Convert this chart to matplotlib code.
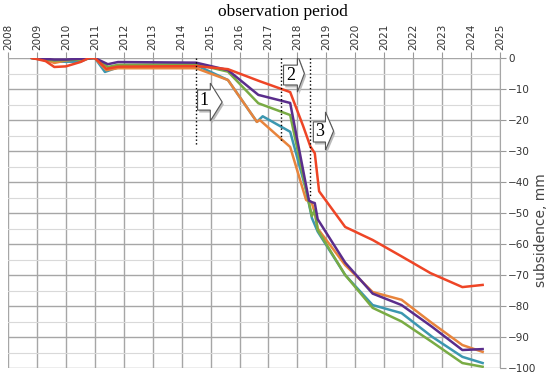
import matplotlib.pyplot as plt
from matplotlib.patches import Polygon
import numpy as np

# data (year, subsidence in mm)
red_x = [2008.83, 2009.3, 2009.6, 2010.0, 2010.5, 2010.8, 2011.0, 2011.4, 2011.8, 2014.5, 2015.6,
         2016.7, 2017.75, 2018.2, 2018.45, 2018.6, 2018.75, 2019.65, 2020.6, 2021.6, 2022.6, 2023.7, 2024.4]
red_y = [0, -1, -2.9, -2.7, -1.3, 0, 0, -3.5, -2.8, -2.6, -3.6,
         -7.5, -11, -22, -28.6, -30.7, -43, -54.5, -58.7, -64, -69.4, -73.9, -73.2]

purple_x = [2008.83, 2009.6, 2010.0, 2011.0, 2011.45, 2011.8, 2014.5, 2015.6, 2016.65, 2017.75,
            2018.4, 2018.5, 2018.6, 2018.7, 2019.65, 2020.6, 2021.6, 2022.65, 2023.7, 2024.4]
purple_y = [0, -0.5, -0.5, 0, -2, -1.3, -1.5, -3.9, -11.9, -14.5,
            -46, -46.5, -46.8, -52, -66, -76, -79.7, -86.7, -94.2, -93.9]

green_x = [2008.83, 2009.6, 2010.5, 2011.0, 2011.45, 2011.8, 2014.5, 2015.6, 2016.65, 2017.75,
           2018.3, 2018.5, 2018.6, 2018.7, 2019.65, 2020.6, 2021.6, 2022.65, 2023.7, 2024.4]
green_y = [0, -0.8, -0.5, 0, -2.9, -2.2, -2, -4.4, -14.6, -18.4,
           -42.6, -51, -49, -55.5, -70, -80.6, -85, -91.6, -98.4, -99.6]

teal_x = [2008.83, 2009.6, 2010.5, 2010.8, 2011.0, 2011.35, 2011.8, 2014.5, 2015.6, 2016.6, 2016.8,
          2017.75, 2018.3, 2018.5, 2018.7, 2019.65, 2020.6, 2021.6, 2022.65, 2023.7, 2024.4]
teal_y = [0, -1.2, -1.2, 0, 0, -4.5, -3, -2.3, -7.1, -20.6, -18.8,
          -23.8, -42.6, -51.6, -56, -70, -79.7, -82.3, -89.9, -96.4, -98.4]

orange_x = [2008.83, 2009.3, 2009.6, 2010.0, 2010.8, 2011.0, 2011.4, 2011.8, 2014.5, 2015.6, 2016.6,
            2016.7, 2017.75, 2018.3, 2018.5, 2018.6, 2018.7, 2019.65, 2020.6, 2021.6, 2022.65, 2023.7, 2024.4]
orange_y = [0, -0.5, -1.6, -0.8, 0, 0, -3.9, -3.3, -3.3, -7.1, -20.6,
            -20, -28.7, -45.8, -46.8, -50, -55, -66.8, -75.5, -78, -85.5, -92.6, -94.8]

years = list(range(2008, 2026))
yticks = list(range(0, -101, -10))

# stage markers: dotted line (x, lower end) and arrow label
stage_x = [2014.5, 2017.42, 2018.45]
stage_bottom = [-28.4, -26.8, -45]
stage_labels = ["1", "2", "3"]
# arrow boxes: x0, x1, tip, y_top, y_bottom, head_top, head_bottom
boxes = [(2014.55, 2014.99, 2015.4, -10.3, -16.8, -8.1, -20.3),
         (2017.52, 2018.0, 2018.24, -2.3, -8.7, 1.0, -11.0),
         (2018.55, 2018.97, 2019.25, -20.6, -27.1, -17.4, -29.7)]

fig = plt.figure(figsize=(5.5, 3.77), dpi=100)
ax = fig.add_axes([8/550, 1-368/377, 492/550, 310/377])

ax.set_xlim(2008, 2025)
ax.set_ylim(-100, 0)
ax.set_xticks(years)
ax.set_xticklabels([str(y) for y in years], rotation=90, fontsize=7.5, color="#333333")
ax.set_yticks(yticks)
ax.set_yticklabels([str(v).replace("-", "\u2212") for v in yticks], fontsize=7.5, color="#333333")
ax.set_yticks(range(-95, 0, 10), minor=True)
ax.xaxis.tick_top()
ax.yaxis.tick_right()
ax.tick_params(axis="both", which="major", length=4, color="#999999", pad=2)
ax.tick_params(axis="y", which="minor", length=0)
ax.grid(which="major", color="#a6a6a6", lw=1.0)
ax.grid(which="minor", axis="y", color="#d9d9d9", lw=0.8)
for s in ["left", "bottom", "top"]:
    ax.spines[s].set_visible(False)
ax.spines["right"].set_color("#a6a6a6")
ax.set_axisbelow(True)

lw = 1.8
ax.plot(teal_x, teal_y, color="#3c97b0", lw=lw)
ax.plot(orange_x, orange_y, color="#e8843c", lw=lw)
ax.plot(green_x, green_y, color="#79ab44", lw=lw)
ax.plot(purple_x, purple_y, color="#5a2d8c", lw=lw)
ax.plot(red_x, red_y, color="#ee4526", lw=lw)

for sx, sb in zip(stage_x, stage_bottom):
    ax.plot([sx, sx], [0, sb], color="black", ls=":", lw=1.0)

for (x0, x1, tip, yt, yb, ht, hb), lab in zip(boxes, stage_labels):
    ym = (ht + hb) / 2
    pts = [(x0, yt), (x1, yt), (x1, ht), (tip, ym), (x1, hb), (x1, yb), (x0, yb)]
    shadow = [(px + 0.06, py - 0.8) for px, py in pts]
    ax.add_patch(Polygon(shadow, closed=True, fc="#bbbbbb", ec="none", zorder=4))
    ax.add_patch(Polygon(pts, closed=True, fc="white", ec="#555555", lw=0.8, zorder=5))
    ax.text((x0 + x1) / 2, (yt + yb) / 2, lab, ha="center", va="center", fontsize=13,
            family="Liberation Serif", zorder=6)

fig.text(283/550, 1-12/377, "observation period", ha="center", va="center",
         fontsize=12.5, family="Liberation Serif")
fig.text(541/550, 1-230/377, "subsidence, mm", ha="center", va="center", rotation=90,
         fontsize=10, color="#444444")

fig.savefig("out.png", dpi=100)
